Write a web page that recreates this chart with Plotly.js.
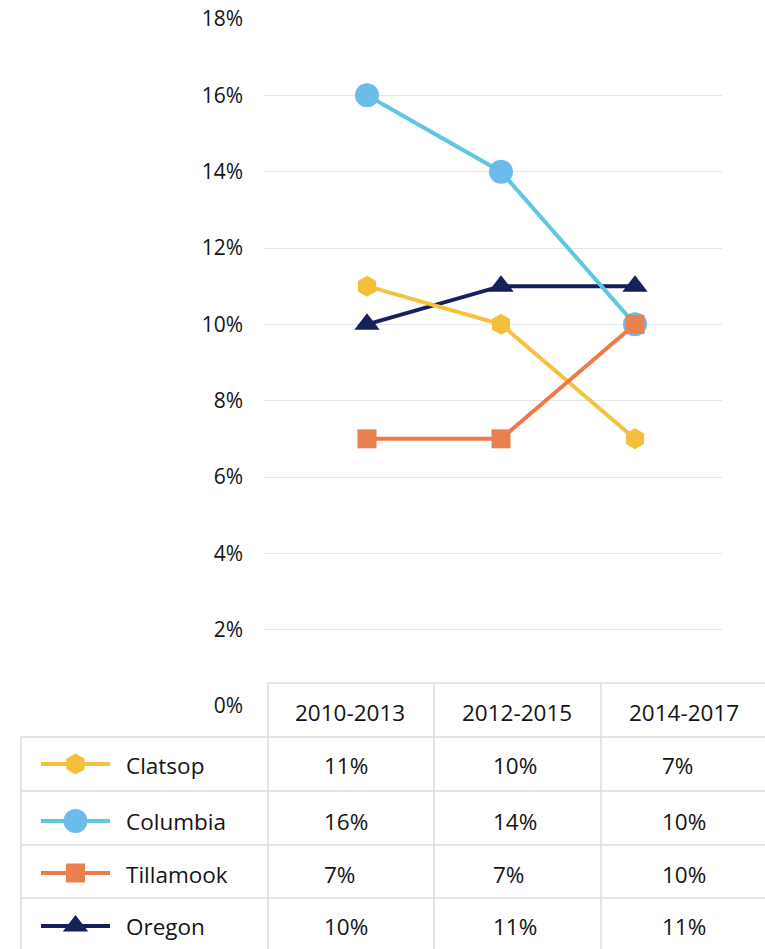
<!DOCTYPE html>
<html>
<head>
<meta charset="utf-8">
<script src="https://cdn.plot.ly/plotly-3.0.1.min.js"></script>
<style>html,body{margin:0;padding:0;background:#fff;}#chart{width:765px;height:949px;}</style>
</head>
<body>
<div id="chart"></div>
<script>
// ---- data ----
const categories = ['2010-2013', '2012-2015', '2014-2017'];
const seriesNames = ['Clatsop', 'Columbia', 'Tillamook', 'Oregon'];
const clatsop = [11, 10, 7];
const columbia = [16, 14, 10];
const tillamook = [7, 7, 10];
const oregon = [10, 11, 11];
const yTickVals = [0, 2, 4, 6, 8, 10, 12, 14, 16, 18];
const yTickText = ['0%', '2%', '4%', '6%', '8%', '10%', '12%', '14%', '16%', '18%'];

// ---- styles ----
const W = 765, H = 949;
const FONT = 'Open Sans, Noto Sans, sans-serif';
const styles = {
  Clatsop:   {line: '#F4C23E', marker: '#F5BE3C', symbol: 'hexagon',     size: 21},
  Columbia:  {line: '#62C6DF', marker: '#6BBCE8', symbol: 'circle',      size: 24},
  Tillamook: {line: '#EE7A4C', marker: '#E8804F', symbol: 'square',      size: 19},
  Oregon:    {line: '#15205C', marker: '#15205C', symbol: 'triangle-up', size: 22}
};
const seriesData = {Clatsop: clatsop, Columbia: columbia, Tillamook: tillamook, Oregon: oregon};
const drawOrder = ['Oregon', 'Columbia', 'Clatsop', 'Tillamook'];

const px = x => x / W;
const py = y => 1 - y / H;

// main plot geometry
const plotLeft = 263, plotRight = 722, yZeroPx = 706, yTopPx = 19;
const cat0 = 367, catStep = 134;

const traces = [];
drawOrder.forEach(name => {
  const s = styles[name];
  traces.push({
    type: 'scatter', mode: 'lines+markers', name: name,
    x: categories, y: seriesData[name],
    line: {color: s.line, width: 4},
    marker: {color: s.marker, symbol: s.symbol, size: s.size, opacity: 1, line: {width: 0}},
    showlegend: false, hoverinfo: 'skip', cliponaxis: false
  });
});

// table geometry
const tableTop = 683, headerBottom = 737;
const rowLines = [737, 791, 845, 898];
const colLines = [268, 434, 601];
const tableLeft = 21, tableRight = 765;
const rowCenters = [765, 821, 874, 926];
const legendRowCenters = [764, 821, 873, 926];
const headerCenters = [350, 517, 684];
const valueLefts = [322, 491, 660];

// legend glyphs on their own axis (x2/y2)
const glyphLeft = 41, glyphRight = 110;
const y2Top = headerBottom, y2Bottom = H;
seriesNames.forEach((name, i) => {
  const s = styles[name];
  traces.push({
    type: 'scatter', mode: 'lines+markers', xaxis: 'x2', yaxis: 'y2',
    x: [0, 1, 2], y: [legendRowCenters[i], legendRowCenters[i], legendRowCenters[i]],
    line: {color: s.line, width: 4},
    marker: {color: s.marker, symbol: s.symbol, size: [0, s.size, 0], opacity: 1, line: {width: 0}},
    showlegend: false, hoverinfo: 'skip', cliponaxis: false
  });
});

const shapes = [];
const gridCol = '#DCDCDC';
shapes.push({type: 'rect', xref: 'paper', yref: 'paper', x0: px(248), x1: px(tableRight), y0: py(tableTop - 1), y1: py(H),
  fillcolor: '#ffffff', line: {width: 0}, layer: 'above'});
shapes.push({type: 'line', xref: 'paper', yref: 'paper', x0: px(colLines[0]), x1: px(tableRight), y0: py(tableTop), y1: py(tableTop),
  line: {color: gridCol, width: 1.5}, layer: 'above'});
rowLines.forEach(y => shapes.push({type: 'line', xref: 'paper', yref: 'paper', x0: px(tableLeft), x1: px(tableRight), y0: py(y), y1: py(y),
  line: {color: gridCol, width: 1.5}, layer: 'above'}));
shapes.push({type: 'line', xref: 'paper', yref: 'paper', x0: px(tableLeft), x1: px(tableLeft), y0: py(headerBottom), y1: py(H),
  line: {color: gridCol, width: 1.5}, layer: 'above'});
colLines.forEach(x => shapes.push({type: 'line', xref: 'paper', yref: 'paper', x0: px(x), x1: px(x), y0: py(tableTop), y1: py(H),
  line: {color: gridCol, width: 1.5}, layer: 'above'}));

const annotations = [];
const txtCol = '#141414';
const tFont = {family: FONT, size: 22.5, color: txtCol};
categories.forEach((c, j) => annotations.push({xref: 'paper', yref: 'paper', x: px(headerCenters[j]), y: py(712),
  text: c, showarrow: false, xanchor: 'center', yanchor: 'middle', font: tFont}));
seriesNames.forEach((name, i) => {
  annotations.push({xref: 'paper', yref: 'paper', x: px(124), y: py(rowCenters[i]),
    text: name, showarrow: false, xanchor: 'left', yanchor: 'middle', font: tFont});
  seriesData[name].forEach((v, j) => annotations.push({xref: 'paper', yref: 'paper', x: px(valueLefts[j]), y: py(rowCenters[i]),
    text: v + '%', showarrow: false, xanchor: 'left', yanchor: 'middle', font: tFont}));
});

const layout = {
  width: W, height: H,
  margin: {l: 0, r: 0, t: 0, b: 0},
  paper_bgcolor: '#ffffff', plot_bgcolor: '#ffffff',
  showlegend: false,
  xaxis: {
    domain: [px(plotLeft), px(plotRight)],
    type: 'category',
    range: [(plotLeft - cat0) / catStep, (plotRight - cat0) / catStep],
    showgrid: false, zeroline: false, showline: false, showticklabels: false, ticks: '', fixedrange: true
  },
  yaxis: {
    domain: [py(yZeroPx), py(yTopPx)],
    range: [0, 18],
    tickvals: yTickVals, ticktext: yTickText,
    showgrid: true, gridcolor: '#E6E6E6', gridwidth: 1,
    zeroline: false, showline: false, ticks: '',
    ticklabelstandoff: 19,
    tickfont: {family: FONT, size: 21, color: txtCol}, fixedrange: true
  },
  xaxis2: {
    domain: [px(glyphLeft), px(glyphRight)], range: [0, 2], anchor: 'y2',
    visible: false, fixedrange: true
  },
  yaxis2: {
    domain: [0, py(y2Top)], range: [y2Bottom, y2Top], anchor: 'x2',
    visible: false, fixedrange: true
  },
  shapes: shapes,
  annotations: annotations
};

Plotly.newPlot('chart', traces, layout, {displayModeBar: false, staticPlot: true});
</script>
</body>
</html>
